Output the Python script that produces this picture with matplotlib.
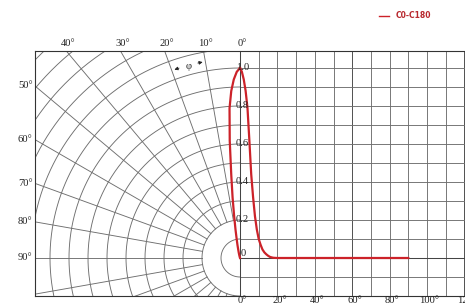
import numpy as np
import matplotlib.pyplot as plt
from matplotlib.patches import Rectangle, FancyArrowPatch

# luminous intensity (relative) vs. angle, C0-C180 plane
angles = [0, 1, 2, 3, 4, 5, 6, 7, 8, 9, 10, 11, 12, 13, 14, 15, 16, 17, 18, 20,
          30, 40, 50, 60, 70, 80, 90]
intensity = [1.0, 0.98, 0.94, 0.88, 0.79, 0.62, 0.44, 0.32, 0.22, 0.15, 0.10, 0.07,
             0.045, 0.03, 0.02, 0.012, 0.006, 0.003, 0.001, 0.0,
             0.0, 0.0, 0.0, 0.0, 0.0, 0.0, 0.0]
series_name = 'C0-C180'

top_ticks = [40, 30, 20, 10, 0]
left_ticks = [50, 60, 70, 80, 90]
bottom_ticks = [0, 20, 40, 60, 80, 100, 120]
value_ticks = [1.0, 0.8, 0.6, 0.4, 0.2]

W, H = 465, 305
S = 190.0          # pixels per intensity unit
CX, CY = 240, 258  # pixel of the origin
DEG = 0.1 / 10 * (18.7 / 19)  # units per degree on the cartesian side

red = '#cc2229'
grid_c = '#6e6e6e'
serif = 'Liberation Serif'
fs = 7.6

fig = plt.figure(figsize=(W / 100, H / 100), dpi=100)
ax = fig.add_axes([0, 0, 1, 1])
ax.set_xlim(-CX / S, (W - CX) / S)
ax.set_ylim((CY - H) / S, CY / S)
ax.set_aspect('equal')
ax.axis('off')

left, right = -1.08, (W - CX) / S + 0.01
bottom, top = -0.2, 1.09

# polar half (left)
clip = Rectangle((left, bottom), -left, top - bottom, transform=ax.transData)
t = np.radians(np.linspace(90, 270, 300))
for r in np.arange(0.1, 1.65, 0.1):
    ln, = ax.plot(r * np.cos(t), r * np.sin(t), color=grid_c, lw=0.65)
    ln.set_clip_path(clip)
for a in range(10, 180, 10):
    ar = np.radians(a)
    ln, = ax.plot([-0.2 * np.sin(ar), -2 * np.sin(ar)], [0.2 * np.cos(ar), 2 * np.cos(ar)],
                  color=grid_c, lw=0.65)
    ln.set_clip_path(clip)

# cartesian half (right)
for a in range(10, 130, 10):
    ax.plot([a * DEG, a * DEG], [bottom, top], color='#444' if a % 60 == 0 else grid_c, lw=0.65)
for v in np.arange(-0.2, 1.05, 0.1):
    ax.plot([0, right], [v, v], color=grid_c, lw=0.65)
ax.plot([0, right], [0, 0], color='#444', lw=0.75)
ax.plot([0, 0], [bottom, top], color='#444', lw=0.75)

# frame
ax.plot([left, right], [top, top], color='#333', lw=0.8)
ax.plot([left, right], [bottom, bottom], color='#333', lw=0.8)
ax.plot([left, left], [bottom, top], color='#333', lw=0.8)

# labels
for a in top_ticks:
    ax.text(-top * np.tan(np.radians(a)) + 0.012, 1.13, f'{a}°', ha='center', va='center',
            fontsize=fs, family=serif, color='#222')
for a in left_ticks:
    ax.text(-1.13, -left / np.tan(np.radians(a)), f'{a}°', ha='center', va='center',
            fontsize=fs, family=serif, color='#222')
for a in bottom_ticks:
    ax.text(a * DEG + 0.012, -0.222, f'{a}°', ha='center', va='center',
            fontsize=fs, family=serif, color='#222')
for v in value_ticks:
    ax.text(0.012, v, f'{v:.1f}', ha='center', va='center', fontsize=fs, family=serif, color='#222')
ax.text(0.016, 0.025, '0', ha='center', va='center', fontsize=fs, family=serif, color='#222')

# phi marker between 10 and 20 degree rays
rp = 1.05
ax.text(-rp * np.sin(np.radians(15)), rp * np.cos(np.radians(15)) - 0.005, 'φ',
        ha='center', va='center', fontsize=fs, family=serif, color='#222')
for a0, a1 in [(13, 10), (17, 20)]:
    p0 = (-rp * np.sin(np.radians(a0)), rp * np.cos(np.radians(a0)))
    p1 = (-rp * np.sin(np.radians(a1)), rp * np.cos(np.radians(a1)))
    ax.add_patch(FancyArrowPatch(p0, p1, arrowstyle='-|>', mutation_scale=5, color='#222', lw=0.6))

# the curve: polar on the left, cartesian on the right
ang = np.radians(angles)
I = np.array(intensity)
ax.plot(-I * np.sin(ang), I * np.cos(ang), color=red, lw=1.6, solid_joinstyle='round')
ax.plot(np.array(angles) * DEG, I, color=red, lw=1.6, solid_joinstyle='round', label=series_name)

leg = fig.legend(loc='center', bbox_to_anchor=(405 / W, 1 - 16 / H), frameon=False,
                 handlelength=1.3, handletextpad=0.8,
                 prop={'size': 5.5, 'weight': 'bold', 'family': 'DejaVu Sans'})
for line in leg.get_lines():
    line.set_linewidth(1.0)
for txt in leg.get_texts():
    txt.set_color('#b8282e')

fig.savefig('out.png', dpi=100)
